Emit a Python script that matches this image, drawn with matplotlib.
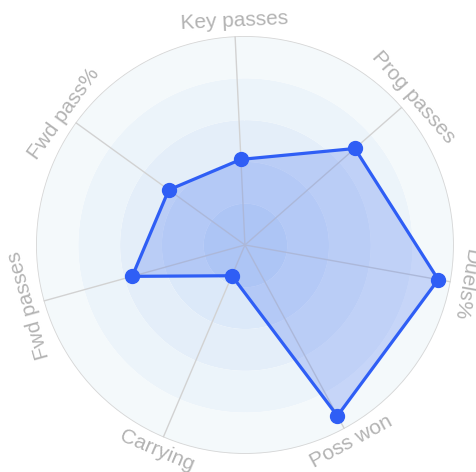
import numpy as np
import matplotlib
matplotlib.use('Agg')
import matplotlib.pyplot as plt

# clockwise from the top
labels = ['Key passes', 'Prog passes', 'Duels%', 'Poss won', 'Carrying', 'Fwd passes', 'Fwd pass%']
values = [41, 70, 94, 93, 16, 56, 45]
band_colors = ['#d3e3f8', '#dce9f9', '#e4eef9', '#ecf4fa', '#f4f9fb']  # inner -> outer

plt.rcParams['font.family'] = ['Liberation Sans', 'DejaVu Sans']

fig = plt.figure(figsize=(4.77, 4.72), dpi=100)
ax = fig.add_axes([0.0755, 0.038, 0.876, 0.886], projection='polar')
ax.set_theta_offset(np.deg2rad(92.7))
ax.set_theta_direction(-1)
ax.set_ylim(0, 100)
ax.grid(False)
ax.spines['polar'].set_visible(False)
ax.set_xticks([])
ax.set_yticks([])
ax.patch.set_alpha(0)

n = len(labels)
angles = np.linspace(0, 2 * np.pi, n, endpoint=False)
full = np.linspace(0, 2 * np.pi, 361)

# background bands
edges = np.linspace(0, 100, len(band_colors) + 1)
for i, c in enumerate(band_colors):
    ax.fill_between(full, edges[i], edges[i + 1], color=c, lw=0, zorder=0)
ax.plot(full, np.full_like(full, 100), color='#d6d6d6', lw=1.2, zorder=1)

# spokes
for a in angles:
    ax.plot([a, a], [0, 100], color='#d2d2d2', lw=1.0, zorder=1)

# data polygon
va = np.append(values, values[0])
aa = np.append(angles, angles[0])
ax.fill(aa, va, color='#3d6cf0', alpha=0.25, lw=0, zorder=2)
ax.plot(aa, va, color='#2f5ef5', lw=2.3, zorder=3)
ax.plot(angles, values, 'o', color='#2f5ef5', ms=10, zorder=4)

# tangential labels
for a, lab in zip(angles, labels):
    screen = 92.7 - np.rad2deg(a)
    rot = screen - 90
    if np.sin(np.deg2rad(screen)) < -0.5:
        rot += 180
    ax.text(a, 107.2, lab, rotation=rot, rotation_mode='anchor',
            ha='center', va='center', fontsize=15, color='#b3b3b3', zorder=5)

fig.savefig('out.png', dpi=100)
